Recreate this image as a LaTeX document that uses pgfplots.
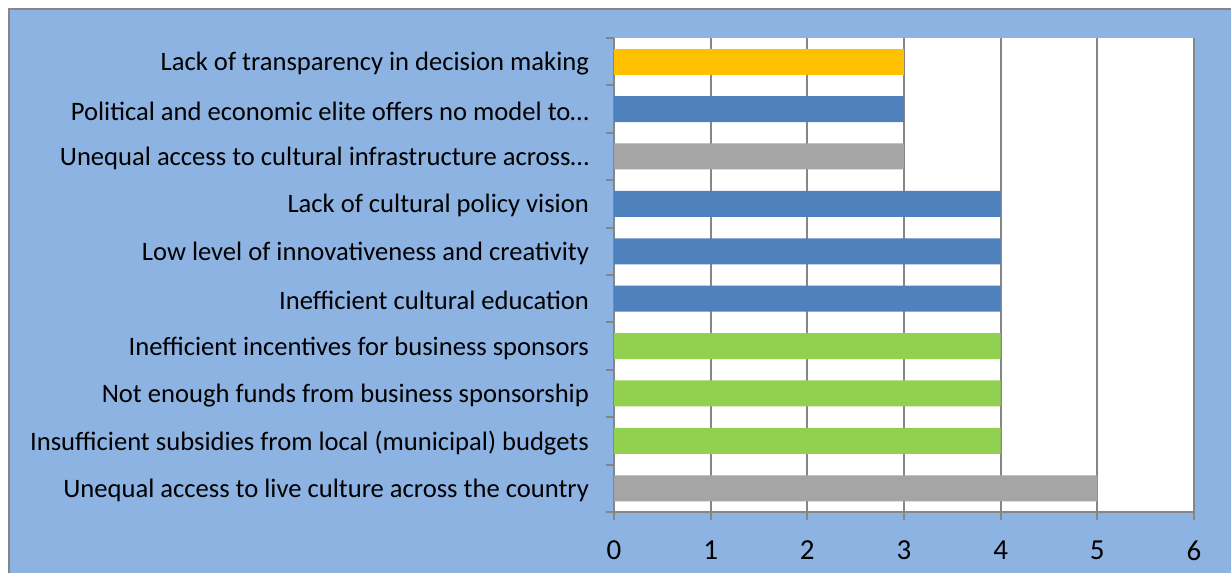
\documentclass[border=0pt]{standalone}
\usepackage{fontspec}
\setmainfont{Carlito}
\usepackage{pgfplots}
\pgfplotsset{compat=1.18}
\definecolor{bgblue}{HTML}{8DB3E2}
\definecolor{cyellow}{HTML}{FFC000}
\definecolor{cblue}{HTML}{4F81BD}
\definecolor{cgray}{HTML}{A5A5A5}
\definecolor{cgreen}{HTML}{92D050}
\definecolor{gridgray}{HTML}{868686}
\begin{document}
\begin{tikzpicture}
\useasboundingbox (0,0) rectangle (615.5pt,286.5pt);
\fill[white] (0,0) rectangle (615.5pt,286.5pt);
\fill[bgblue] (4.5pt,0) rectangle (615.5pt,282pt);
\draw[gridgray,line width=0.6pt] (4.5pt,0) -- (4.5pt,282pt) -- (615.5pt,282pt);
\begin{axis}[
  at={(307pt,30.5pt)}, anchor=south west,
  scale only axis, width=290pt, height=237pt,
  xmin=0, xmax=6, ymin=-0.5, ymax=9.5,
  axis lines*=left,
  axis line style={gridgray, line width=1pt},
  axis background/.style={fill=white},
  xtick={0,...,6},
  xmajorgrids, grid style={gridgray, line width=1pt},
  tick align=outside,
  major tick length=4pt,
  minor tick length=4pt,
  x tick style={gridgray, line width=1pt},
  ytick={0,...,9},
  minor ytick={-0.5,0.5,...,9.5},
  major y tick style={draw=none},
  minor y tick style={gridgray, line width=1pt},
  yticklabels={Unequal access to live culture across the country,
    Insufficient subsidies from local (municipal) budgets,
    Not enough funds from business sponsorship,
    Inefficient incentives for business sponsors,
    Inefficient cultural education,
    Low level of innovativeness and creativity,
    Lack of cultural policy vision,
    Unequal access to cultural infrastructure across…,
    Political and economic elite offers no model to…,
    Lack of transparency in decision making},
  yticklabel style={font=\fontsize{13.3}{15}\selectfont, xshift=-5pt, yshift=-1pt},
  xticklabel style={font=\fontsize{14.5}{16}\selectfont, yshift=-7pt},
  /pgf/number format/assume math mode=true,
  xbar, bar shift=0pt, bar width=13pt,
]
\addplot[fill=cgray, draw=none] coordinates {(5,0) (3,7)};
\addplot[fill=cgreen, draw=none] coordinates {(4,1) (4,2) (4,3)};
\addplot[fill=cblue, draw=none] coordinates {(4,4) (4,5) (4,6) (3,8)};
\addplot[fill=cyellow, draw=none] coordinates {(3,9)};
\end{axis}
\end{tikzpicture}
\end{document}
